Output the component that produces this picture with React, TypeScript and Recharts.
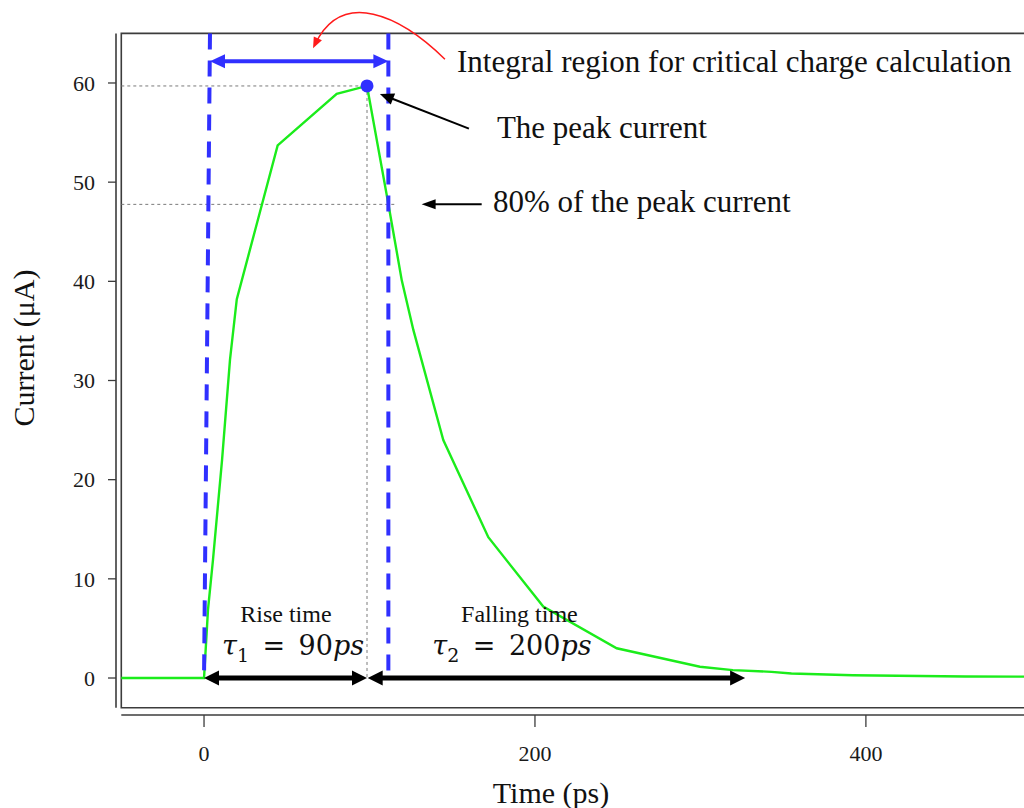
import React from 'react';
import {
  LineChart,
  Line,
  XAxis,
  YAxis,
  ReferenceLine,
  ReferenceArea,
  ReferenceDot,
} from 'recharts';

// SET current pulse (time in ps, current in µA)
const TIME_PS = [
  -50, 0, 2.4, 5.4, 10.9, 15.7, 19.8, 44.5, 80.2, 98.5, 111.4, 119.5, 126.5,
  144.6, 171.8, 205, 249.4, 299.7, 319.6, 343, 355, 392, 460, 530,
];
const CURRENT_UA = [
  0, 0, 6.9, 11.9, 22.0, 32.1, 38.2, 53.7, 58.9, 59.7, 47.8, 40.1, 35.1,
  24.0, 14.2, 7.2, 3.0, 1.14, 0.8, 0.62, 0.45, 0.28, 0.15, 0.12,
];

const X_TICKS = [0, 200, 400];
const Y_TICKS = [0, 10, 20, 30, 40, 50, 60];

const X_MIN = -53.2;
const X_MAX = 530;
const Y_MIN = -3.73;
const Y_MAX = 65;
const FRAME_LEFT = -50;
const FRAME_BOTTOM = -3;

const PEAK_T = 98.5;
const PEAK_UA = 59.7;
const LEVEL_80 = 0.8 * PEAK_UA;

// integral window (left guide is slightly slanted)
const WINDOW_START_TOP = 3.6;
const WINDOW_START_BOTTOM = 0;
const WINDOW_END = 111.4;
const WINDOW_ARROW_Y = 62.2;

const RISE_SPAN = [0, PEAK_T];
const FALL_SPAN = [PEAK_T + 0.4, 327];

const data = TIME_PS.map((t, k) => ({ t, i: CURRENT_UA[k] }));

const SERIF = '"Liberation Serif", "Times New Roman", serif';
const MATH = '"DejaVu Serif", serif';
const BLUE = '#3030ff';
const GREEN = '#1bec1b';
const AXIS = '#3c3c3c';

function headPoints(tx: number, ty: number, fx: number, fy: number, len: number, half: number) {
  const dx = tx - fx;
  const dy = ty - fy;
  const d = Math.hypot(dx, dy) || 1;
  const ux = dx / d;
  const uy = dy / d;
  const bx = tx - ux * len;
  const by = ty - uy * len;
  return `${tx},${ty} ${bx - uy * half},${by + ux * half} ${bx + uy * half},${by - ux * half}`;
}

// straight arrow between the two ends of a reference segment
const arrow = (color: string, width: number, len: number, half: number, both: boolean) =>
  (p: any) => {
    const { x1, y1, x2, y2 } = p;
    const d = Math.hypot(x2 - x1, y2 - y1) || 1;
    const ux = (x2 - x1) / d;
    const uy = (y2 - y1) / d;
    const sx = both ? x1 + ux * (len - 2) : x1;
    const sy = both ? y1 + uy * (len - 2) : y1;
    return (
      <g>
        <line x1={sx} y1={sy} x2={x2 - ux * (len - 2)} y2={y2 - uy * (len - 2)} stroke={color} strokeWidth={width} />
        <polygon points={headPoints(x2, y2, x1, y1, len, half)} fill={color} />
        {both && <polygon points={headPoints(x1, y1, x2, y2, len, half)} fill={color} />}
      </g>
    );
  };

// curved pointer from the caption back to the window arrow
const curvedArrow = (p: any) => {
  const { x1, y1, x2, y2 } = p;
  const c1x = x1 - 45;
  const c1y = y1 - 44;
  const c2x = x2 + 29;
  const c2y = y2 - 60;
  return (
    <g>
      <path d={`M${x1},${y1} C${c1x},${c1y} ${c2x},${c2y} ${x2 + 2},${y2 - 4}`} fill="none" stroke="#ff1a1a" strokeWidth={1.5} />
      <polygon points={headPoints(x2, y2, c2x, c2y, 11, 4.5)} fill="#ff1a1a" />
    </g>
  );
};

const textAt = (content: React.ReactNode, size: number, anchor: string = 'start', family: string = SERIF) =>
  (p: any) => (
    <text x={p.cx} y={p.cy} fontFamily={family} fontSize={size} textAnchor={anchor} fill="#111">
      {content}
    </text>
  );

const tauText = (sub: string, value: string) => (
  <>
    <tspan fontStyle="italic">τ</tspan>
    <tspan fontSize={19} dy={7}>{sub}</tspan>
    <tspan dy={-7}>{'\u2002=\u2002' + value}</tspan>
    <tspan fontStyle="italic">ps</tspan>
  </>
);

const xTick = (p: any) => (
  <text x={p.x} y={p.y} dy={15.6} textAnchor="middle" fontFamily={SERIF} fontSize={22} fill="#1a1a1a">
    {p.payload.value}
  </text>
);

const yTick = (p: any) => (
  <text x={p.x} y={p.y} dy={7.8} textAnchor="end" fontFamily={SERIF} fontSize={22} fill="#1a1a1a">
    {p.payload.value}
  </text>
);

const dotted = { stroke: '#7a7a7a', strokeWidth: 1, strokeDasharray: '3 3' };

export default function App() {
  return (
    <div style={{ position: 'absolute', left: 0, top: 0, width: 1024, height: 808, overflow: 'hidden', background: '#fff' }}>
      <LineChart width={1090} height={808} data={data} margin={{ top: 33.4, right: 9, bottom: 0, left: 0 }}>
        <XAxis
          dataKey="t"
          type="number"
          domain={[X_MIN, X_MAX]}
          ticks={X_TICKS}
          allowDataOverflow
          height={93}
          axisLine={false}
          tickSize={12}
          tickMargin={18}
          tickLine={{ stroke: AXIS, strokeWidth: 1.3 }}
          tick={xTick}
          label={{
            content: (p: any) => (
              <text x={p.viewBox.x + 435} y={p.viewBox.y + 88} textAnchor="middle" fontFamily={SERIF} fontSize={30} fill="#111">
                Time (ps)
              </text>
            ),
          }}
        />
        <YAxis
          type="number"
          domain={[Y_MIN, Y_MAX]}
          ticks={Y_TICKS}
          allowDataOverflow
          width={116}
          axisLine={false}
          tickSize={8}
          tickMargin={13}
          tickLine={{ stroke: AXIS, strokeWidth: 1.3 }}
          tick={yTick}
          label={{
            content: () => (
              <text x={34} y={348} transform="rotate(-90 34 348)" textAnchor="middle" fontFamily={SERIF} fontSize={30} fill="#111">
                Current (μA)
              </text>
            ),
          }}
        />

        {/* plot frame and detached axis lines */}
        <ReferenceArea x1={FRAME_LEFT} x2={X_MAX} y1={FRAME_BOTTOM} y2={Y_MAX} fill="none" stroke={AXIS} strokeWidth={1.6} fillOpacity={0} ifOverflow="visible" />
        <ReferenceLine segment={[{ x: X_MIN, y: FRAME_BOTTOM }, { x: X_MIN, y: Y_MAX }]} stroke={AXIS} strokeWidth={1.6} ifOverflow="visible" />
        <ReferenceLine segment={[{ x: FRAME_LEFT, y: Y_MIN }, { x: X_MAX, y: Y_MIN }]} stroke={AXIS} strokeWidth={1.6} ifOverflow="visible" />

        {/* peak / 80% guides */}
        <ReferenceLine segment={[{ x: FRAME_LEFT, y: PEAK_UA }, { x: PEAK_T, y: PEAK_UA }]} {...dotted} ifOverflow="visible" />
        <ReferenceLine segment={[{ x: FRAME_LEFT, y: LEVEL_80 }, { x: 115.4, y: LEVEL_80 }]} {...dotted} ifOverflow="visible" />
        <ReferenceLine segment={[{ x: PEAK_T, y: PEAK_UA }, { x: PEAK_T, y: 0 }]} {...dotted} ifOverflow="visible" />

        <Line type="linear" dataKey="i" stroke={GREEN} strokeWidth={2.4} dot={false} activeDot={false} isAnimationActive={false} />

        {/* integral window */}
        <ReferenceLine segment={[{ x: WINDOW_START_TOP, y: Y_MAX }, { x: WINDOW_START_BOTTOM, y: 0 }]} stroke={BLUE} strokeWidth={4} strokeDasharray="16 11" ifOverflow="visible" />
        <ReferenceLine segment={[{ x: WINDOW_END, y: Y_MAX }, { x: WINDOW_END, y: -0.2 }]} stroke={BLUE} strokeWidth={4} strokeDasharray="16 11" ifOverflow="visible" />
        <ReferenceLine segment={[{ x: WINDOW_START_TOP, y: WINDOW_ARROW_Y }, { x: WINDOW_END, y: WINDOW_ARROW_Y }]} shape={arrow(BLUE, 4, 15, 7, true)} ifOverflow="visible" />

        <ReferenceDot x={PEAK_T} y={PEAK_UA} r={6.5} fill={BLUE} stroke="none" ifOverflow="visible" />

        {/* rise / fall spans */}
        <ReferenceLine segment={[{ x: RISE_SPAN[0], y: 0 }, { x: RISE_SPAN[1], y: 0 }]} shape={arrow('#000', 5, 15, 7.5, true)} ifOverflow="visible" />
        <ReferenceLine segment={[{ x: FALL_SPAN[0], y: 0 }, { x: FALL_SPAN[1], y: 0 }]} shape={arrow('#000', 5, 15, 7.5, true)} ifOverflow="visible" />

        {/* pointers */}
        <ReferenceLine segment={[{ x: 145.6, y: 62.4 }, { x: 65.9, y: 63.5 }]} shape={curvedArrow} ifOverflow="visible" />
        <ReferenceLine segment={[{ x: 160.1, y: 55.4 }, { x: 106.3, y: 58.9 }]} shape={arrow('#000', 2, 14, 6, false)} ifOverflow="visible" />
        <ReferenceLine segment={[{ x: 167.8, y: LEVEL_80 }, { x: 131.5, y: LEVEL_80 }]} shape={arrow('#000', 2, 14, 5, false)} ifOverflow="visible" />

        {/* captions */}
        <ReferenceDot x={152.9} y={61.1} r={1} ifOverflow="visible" shape={textAt('Integral region for critical charge calculation', 31)} />
        <ReferenceDot x={177} y={54.45} r={1} ifOverflow="visible" shape={textAt('The peak current', 31)} />
        <ReferenceDot x={174.6} y={47.0} r={1} ifOverflow="visible" shape={textAt('80% of the peak current', 31)} />
        <ReferenceDot x={49.5} y={5.65} r={1} ifOverflow="visible" shape={textAt('Rise time', 24, 'middle')} />
        <ReferenceDot x={190.6} y={5.65} r={1} ifOverflow="visible" shape={textAt('Falling time', 24, 'middle')} />
        <ReferenceDot x={53.8} y={2.32} r={1} ifOverflow="visible" shape={textAt(tauText('1', '90'), 27, 'middle', MATH)} />
        <ReferenceDot x={186.1} y={2.32} r={1} ifOverflow="visible" shape={textAt(tauText('2', '200'), 27, 'middle', MATH)} />
      </LineChart>
    </div>
  );
}
